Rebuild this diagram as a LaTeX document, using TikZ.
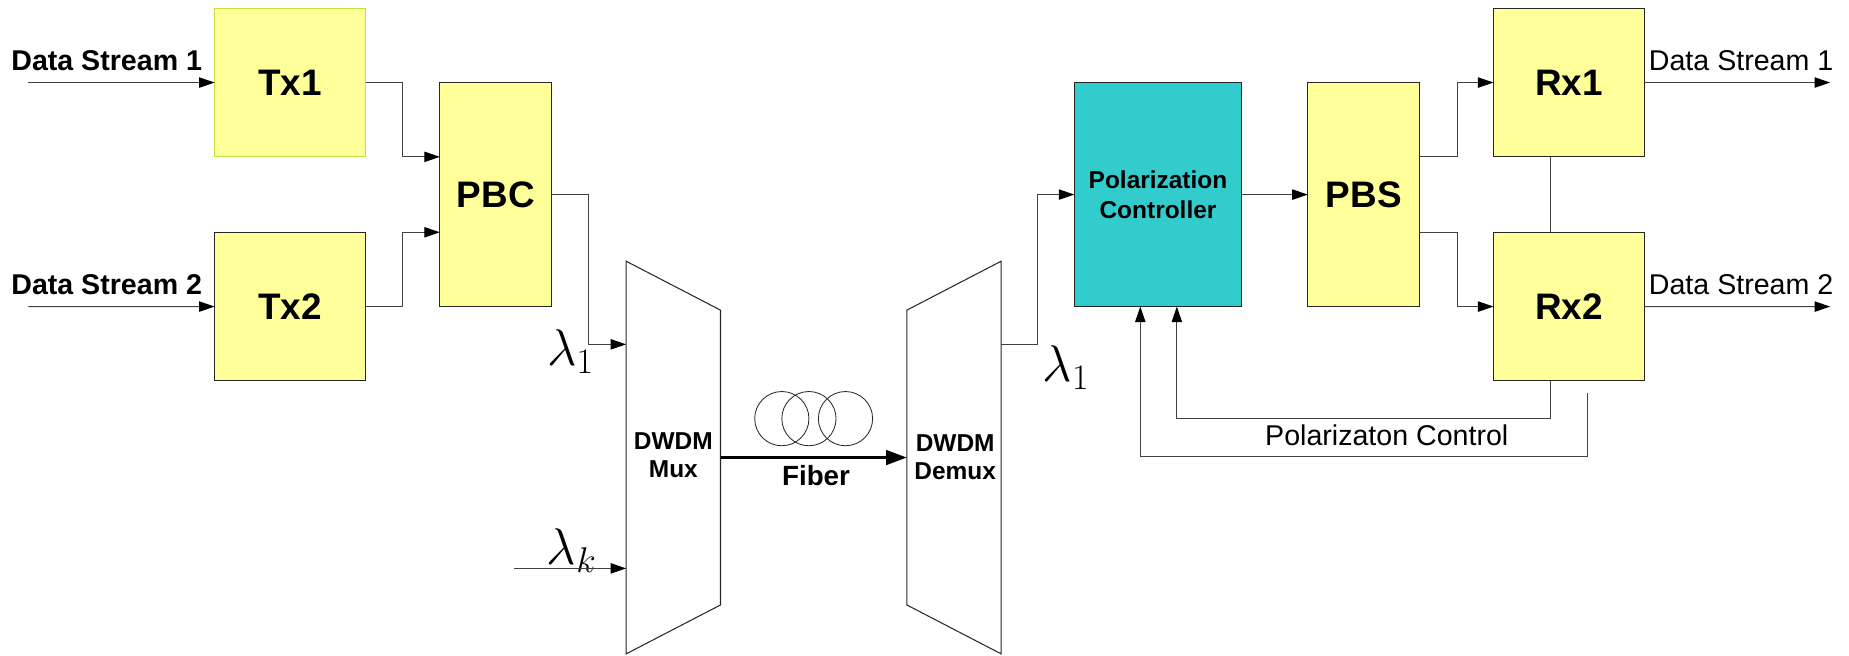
\documentclass[tikz,border=0pt]{standalone}
\usepackage[no-math]{fontspec}
\setmainfont{Liberation Sans}
\usetikzlibrary{arrows.meta, positioning, calc}
\definecolor{boxyellow}{HTML}{FFFF99}
\definecolor{boxteal}{HTML}{33CCCC}
\definecolor{txborder}{HTML}{BFE23F}
\definecolor{linegray}{HTML}{404040}
\tikzset{
  blockbox/.style={
    draw=black!85,
    fill=boxyellow,
    line width=0.6pt,
    inner sep=0pt,
    outer sep=0pt,
    align=center,
    font=\bfseries\fontsize{17.8}{20}\selectfont,
    minimum width=2.56cm,
    minimum height=2.52cm
  },
  tallbox/.style={
    blockbox,
    minimum width=1.9cm,
    minimum height=3.8cm
  },
  ctrlbox/.style={
    blockbox,
    fill=boxteal,
    font=\bfseries\fontsize{11.8}{14.2}\selectfont,
    minimum width=2.84cm,
    minimum height=3.8cm
  },
  wdmshape/.style={
    draw=black!85,
    fill=white,
    line width=0.5pt
  },
  wdmlabel/.style={
    align=center,
    inner sep=0pt,
    font=\bfseries\fontsize{11.8}{13.6}\selectfont
  },
  coil/.style={
    circle,
    draw=black!85,
    line width=0.4pt,
    inner sep=0pt,
    minimum size=0.92cm
  },
  streamlbl/.style={
    inner sep=0pt,
    anchor=base,
    font=\fontsize{13.8}{16}\selectfont
  },
  lambdalbl/.style={
    inner sep=0pt,
    font=\fontsize{24}{28}\selectfont
  },
  conn/.style={
    draw=linegray,
    line width=0.5pt,
    -{Triangle[length=7.5pt, width=5pt, color=black]}
  },
  wire/.style={
    draw=linegray,
    line width=0.5pt
  },
  fiberarrow/.style={
    draw=black,
    line width=1.4pt,
    -{Triangle[length=10pt, width=7pt]}
  }
}

\begin{document}
\begin{tikzpicture}[x=0.02cm, y=-0.02cm]

  \useasboundingbox (0,0) rectangle (1568,556);

  % Transmitter side
  \node (tx1) [blockbox, draw=txborder] at (246,70) {Tx1};
  \node (tx2) [blockbox, below=1.28cm of tx1] {Tx2};
  \node (pbc) [tallbox] at (420.5,165) {PBC};

  \node (ds1lbl) [streamlbl, font=\bfseries\fontsize{13.8}{16}\selectfont] at (90.5,60) {Data Stream 1};
  \node (ds2lbl) [streamlbl, font=\bfseries\fontsize{13.8}{16}\selectfont] at (90.5,250) {Data Stream 2};
  \coordinate (ds1in) at (24,70);
  \coordinate (ds2in) at (24,260);

  % Mux / fiber / Demux
  \draw [wdmshape] (531,221.5) -- (611,263) -- (611,513) -- (531,554.5) -- cycle;
  \draw [wdmshape] (769,263) -- (849,221.5) -- (849,554.5) -- (769,513) -- cycle;
  \node (mux) [wdmlabel] at (571,386) {DWDM\\Mux};
  \node (demux) [wdmlabel] at (810,388) {DWDM\\Demux};
  \coordinate (muxin1) at (531,292);
  \coordinate (muxink) at (531,482);
  \coordinate (muxout) at (611,388);
  \coordinate (demuxin) at (769,388);
  \coordinate (demuxout) at (849,292);
  \coordinate (lamkin) at (436,482);

  \node (lam1) [lambdalbl] at (484,298) {$\lambda_1$};
  \node (lamk) [lambdalbl] at (485,467) {$\lambda_k$};
  \node (lam1r) [lambdalbl] at (904,312) {$\lambda_1$};

  \node (coil1) [coil] at (663,355) {};
  \node (coil2) [coil] at (686,355) {};
  \node (coil3) [coil] at (717,355) {};
  \node (fiberlbl) [streamlbl, font=\bfseries\fontsize{13.4}{16}\selectfont] at (692,412) {Fiber};

  % Receiver side
  \node (pc) [ctrlbox] at (982,165) {Polarization\\Controller};
  \node (pbs) [tallbox] at (1156.5,165) {PBS};
  \node (rx1) [blockbox] at (1330.5,70) {Rx1};
  \node (rx2) [blockbox, below=1.28cm of rx1] {Rx2};

  \node (ds1out) [streamlbl] at (1476.5,60) {Data Stream 1};
  \node (ds2out) [streamlbl] at (1476.5,250) {Data Stream 2};
  \node (fblbl) [streamlbl] at (1176,377.5) {Polarizaton Control};
  \coordinate (ds1end) at (1552,70);
  \coordinate (ds2end) at (1552,260);
  \coordinate (fbstart) at (1346,333);

  % Connectors
  \draw [conn] (ds1in) -- (tx1.west);
  \draw [conn] (ds2in) -- (tx2.west);
  \draw [conn] (tx1.east) -- ++(31.5,0) |- (pbc.west |- tx1.south);
  \draw [conn] (tx2.east) -- ++(31.5,0) |- (pbc.west |- tx2.north);
  \draw [conn] (pbc.east) -- ++(31,0) |- (muxin1);
  \draw [conn] (lamkin) -- (muxink);
  \draw [fiberarrow] (muxout) -- (demuxin);
  \draw [conn] (demuxout) -- ++(31,0) |- (pc.west);
  \draw [conn] (pc.east) -- (pbs.west);
  \draw [conn] (pbs.east |- rx1.south) -- ++(32,0) |- (rx1.west);
  \draw [conn] (pbs.east |- rx2.north) -- ++(32,0) |- (rx2.west);
  \draw [wire] ([xshift=-0.31cm]rx1.south) -- ([xshift=-0.31cm]rx2.north);
  \draw [conn] (rx1.east) -- (ds1end);
  \draw [conn] (rx2.east) -- (ds2end);
  \draw [conn] ([xshift=-0.31cm]rx2.south) -- ++(0,32) -| ([xshift=0.32cm]pc.south);
  \draw [conn] (fbstart) -- ++(0,54) -| ([xshift=-0.3cm]pc.south);

\end{tikzpicture}
\end{document}
